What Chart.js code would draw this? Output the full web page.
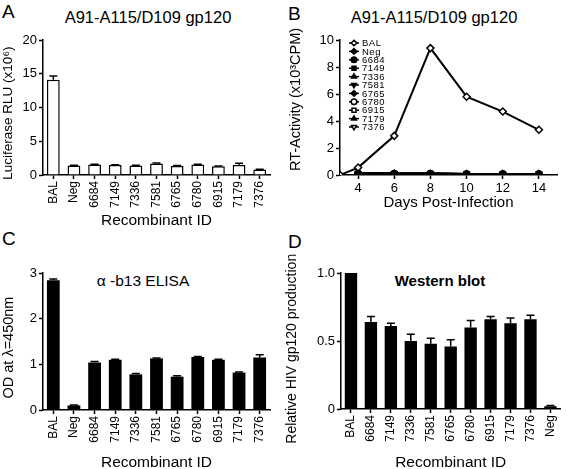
<!DOCTYPE html>
<html>
<head>
<meta charset="utf-8">
<script src="https://cdn.jsdelivr.net/npm/chart.js@4.4.0/dist/chart.umd.min.js"></script>
<style>
  body { margin: 0; background: #fff; width: 567px; height: 469px; position: relative; overflow: hidden;
         font-family: "Liberation Sans", Arial, sans-serif; color: #000; }
  .panel { position: absolute; }
  .letter { position: absolute; font-size: 19px; line-height: 1; }
  .ttl { position: absolute; font-size: 15px; line-height: 1; white-space: nowrap; transform: translateX(-50%); }
</style>
</head>
<body>
<div class="letter" style="left:2px;top:2px">A</div>
<div class="letter" style="left:288px;top:4px">B</div>
<div class="letter" style="left:2px;top:229px">C</div>
<div class="letter" style="left:288px;top:232px">D</div>
<div class="ttl" style="left:148px;top:9px;font-size:16.5px">A91-A115/D109 gp120</div>
<div class="ttl" style="left:434px;top:9px;font-size:16.5px">A91-A115/D109 gp120</div>
<div class="ttl" style="left:143px;top:273px;font-size:15.5px">α -b13 ELISA</div>
<div class="ttl" style="left:440px;top:273px;font-weight:bold;font-size:15px">Western blot</div>

<div class="panel" style="left:0;top:0"><canvas id="chartA" width="283" height="232"></canvas></div>
<div class="panel" style="left:283px;top:0"><canvas id="chartB" width="284" height="232"></canvas></div>
<div class="panel" style="left:0;top:235px"><canvas id="chartC" width="283" height="234"></canvas></div>
<div class="panel" style="left:283px;top:235px"><canvas id="chartD" width="284" height="234"></canvas></div>

<script>
// ---- data ----
const recombinants = ['BAL', 'Neg', '6684', '7149', '7336', '7581', '6765', '6780', '6915', '7179', '7376'];
const luciferase = [14.1, 1.4, 1.55, 1.48, 1.4, 1.72, 1.35, 1.55, 1.3, 1.48, 0.8];
const luciferaseErr = [0.55, 0.05, 0.05, 0.05, 0.05, 0.05, 0.05, 0.05, 0.05, 0.25, 0.05];

const days = [3, 4, 6, 8, 10, 12, 14];
const dayTicks = [4, 6, 8, 10, 12, 14];
const rtBAL  = [0, 0.55, 2.9, 9.4, 5.8, 4.7, 3.35];
const rtNeg  = [null, 0.15, 0.1, 0.1, 0.08, 0.08, 0.08];
const rt6684 = [null, 0.12, 0.1, 0.1, 0.08, 0.08, 0.08];
const rt7149 = [null, 0.1, 0.1, 0.1, 0.08, 0.08, 0.08];
const rt7336 = [null, 0.12, 0.12, 0.1, 0.08, 0.08, 0.08];
const rt7581 = [null, 0.1, 0.1, 0.1, 0.08, 0.08, 0.08];
const rt6765 = [null, 0.15, 0.12, 0.1, 0.08, 0.08, 0.08];
const rt6780 = [null, 0.1, 0.1, 0.1, 0.08, 0.08, 0.08];
const rt6915 = [null, 0.12, 0.1, 0.1, 0.08, 0.08, 0.08];
const rt7179 = [null, 0.1, 0.1, 0.1, 0.08, 0.08, 0.08];
const rt7376 = [null, 0.1, 0.1, 0.1, 0.08, 0.08, 0.08];

const odValues = [2.84, 0.1, 1.04, 1.1, 0.78, 1.13, 0.73, 1.16, 1.1, 0.82, 1.15];
const odErr = [0.03, 0.01, 0.02, 0.01, 0.02, 0.01, 0.02, 0.01, 0.01, 0.01, 0.06];

const westernIds = ['BAL', '6684', '7149', '7336', '7581', '6765', '6780', '6915', '7179', '7376', 'Neg'];
const gp120 = [1.0, 0.64, 0.61, 0.5, 0.48, 0.46, 0.6, 0.66, 0.63, 0.66, 0.02];
const gp120Err = [0, 0.04, 0.02, 0.05, 0.04, 0.05, 0.05, 0.02, 0.04, 0.03, 0.005];

// ---- setup ----
Chart.defaults.font.family = '"Liberation Sans", Arial, sans-serif';
Chart.defaults.color = '#000';
Chart.defaults.animation = false;

const axisGrid = { display: true, drawOnChartArea: false, drawTicks: true, tickLength: 4, tickWidth: 1.5, color: '#000', offset: false };
const axisBorder = { color: '#000', width: 1.5 };
const NB = '\u00a0';

// error bars drawn upward from each bar top
const errorBars = {
  id: 'errorBars',
  afterDatasetsDraw(chart, args, opts) {
    if (!opts.errors) return;
    const ctx = chart.ctx;
    const yScale = chart.scales.y;
    const values = chart.data.datasets[0].data;
    ctx.save();
    ctx.strokeStyle = '#000';
    ctx.lineWidth = 1.5;
    chart.getDatasetMeta(0).data.forEach(function (bar, i) {
      const err = opts.errors[i];
      if (!err) return;
      const top = yScale.getPixelForValue(values[i] + err);
      ctx.beginPath();
      ctx.moveTo(bar.x, bar.y);
      ctx.lineTo(bar.x, top);
      ctx.moveTo(bar.x - opts.cap, top);
      ctx.lineTo(bar.x + opts.cap, top);
      ctx.stroke();
    });
    ctx.restore();
  }
};

function barChart(id, labels, values, errs, cfg) {
  return new Chart(document.getElementById(id), {
    type: 'bar',
    data: {
      labels: labels,
      datasets: [{
        data: values,
        backgroundColor: cfg.fill,
        borderColor: '#000',
        borderWidth: cfg.border,
        barPercentage: 0.62,
        categoryPercentage: 1
      }]
    },
    options: {
      responsive: false,
      devicePixelRatio: 1,
      layout: { padding: cfg.padding },
      plugins: {
        legend: { display: false },
        tooltip: { enabled: false },
        errorBars: { errors: errs, cap: 4 }
      },
      scales: {
        x: {
          grid: axisGrid,
          border: axisBorder,
          ticks: { minRotation: 90, maxRotation: 90, autoSkip: false, padding: 2, font: { size: 12 } },
          title: { display: true, text: 'Recombinant ID', font: { size: 15.5, lineHeight: 1 }, padding: { top: 0, bottom: cfg.xTitlePad } },
          afterFit: function (s) { s.height = cfg.xHeight; }
        },
        y: {
          min: 0,
          max: cfg.max,
          grid: axisGrid,
          border: axisBorder,
          ticks: { stepSize: cfg.step, padding: 2, font: { size: 13 }, callback: cfg.tickFmt },
          title: { display: true, text: cfg.yTitle, font: { size: cfg.yTitleSize }, padding: { top: cfg.yTitlePad, bottom: 0 } },
          afterFit: function (s) { s.width = cfg.yWidth; }
        }
      }
    },
    plugins: [errorBars]
  });
}

// panel A
barChart('chartA', recombinants, luciferase, luciferaseErr, {
  fill: '#fff', border: 1.5, padding: { left: 0, top: 40, right: 13, bottom: 0 },
  xHeight: 57, xTitlePad: 4, max: 20, step: 5, yWidth: 43,
  yTitle: 'Luciferase RLU (x10⁶)' + NB.repeat(3), yTitleSize: 13.5, yTitlePad: 0
});

// panel C
barChart('chartC', recombinants, odValues, odErr, {
  fill: '#000', border: 0, padding: { left: 0, top: 38, right: 13, bottom: 0 },
  xHeight: 59, xTitlePad: -1, max: 3, step: 1, yWidth: 43,
  yTitle: 'OD at λ=450nm' + NB.repeat(3), yTitleSize: 14.5, yTitlePad: 0
});

// panel D
barChart('chartD', westernIds, gp120, gp120Err, {
  fill: '#000', border: 0, padding: { left: 0, top: 38, right: 4, bottom: 0 },
  xHeight: 60, xTitlePad: -1, max: 1, step: 0.5, yWidth: 58,
  yTitle: 'Relative HIV gp120 production' + NB.repeat(4), yTitleSize: 14, yTitlePad: 1,
  tickFmt: function (v) { return v === 0 ? '0' : v.toFixed(1); }
});

// panel B
const rtSeries = [
  { label: 'BAL',  values: rtBAL,  style: 'rectRot',  fill: '#fff', radius: 3.5 },
  { label: 'Neg',  values: rtNeg,  style: 'rectRot',  fill: '#000' },
  { label: '6684', values: rt6684, style: 'circle',   fill: '#000' },
  { label: '7149', values: rt7149, style: 'rect',     fill: '#000' },
  { label: '7336', values: rt7336, style: 'triangle', fill: '#000' },
  { label: '7581', values: rt7581, style: 'triangle', fill: '#000', rotation: 180 },
  { label: '6765', values: rt6765, style: 'rectRot',  fill: '#000' },
  { label: '6780', values: rt6780, style: 'circle',   fill: '#fff' },
  { label: '6915', values: rt6915, style: 'rect',     fill: '#fff' },
  { label: '7179', values: rt7179, style: 'triangle', fill: '#000' },
  { label: '7376', values: rt7376, style: 'triangle', fill: '#fff', rotation: 180 }
];

// legend drawn inside the plot area, Prism style (line through marker)
const innerLegend = {
  id: 'innerLegend',
  afterDraw(chart) {
    const ctx = chart.ctx;
    const area = chart.chartArea;
    const x0 = area.left + 9;
    ctx.save();
    ctx.font = '9.5px "Liberation Sans", Arial, sans-serif';
    ctx.letterSpacing = '0.5px';
    ctx.textBaseline = 'middle';
    chart.data.datasets.forEach(function (ds, i) {
      const y = area.top + 3 + i * 8.4;
      ctx.strokeStyle = '#000';
      ctx.lineWidth = 1.5;
      ctx.beginPath();
      ctx.moveTo(x0, y);
      ctx.lineTo(x0 + 10, y);
      ctx.stroke();
      ctx.fillStyle = ds.pointBackgroundColor;
      Chart.helpers.drawPoint(ctx, { pointStyle: ds.pointStyle, radius: 2.8, rotation: ds.pointRotation, borderWidth: 1.2 }, x0 + 5, y);
      ctx.fillStyle = '#000';
      ctx.fillText(ds.label, x0 + 13, y + 0.5);
    });
    ctx.restore();
  }
};

new Chart(document.getElementById('chartB'), {
  type: 'line',
  data: {
    datasets: rtSeries.map(function (s) {
      return {
        label: s.label,
        data: days.map(function (d, i) { return { x: d, y: s.values[i] }; }),
        borderColor: '#000',
        borderWidth: 2,
        pointStyle: s.style,
        pointRotation: s.rotation || 0,
        pointRadius: s.radius || 3,
        pointBackgroundColor: s.fill,
        pointBorderColor: '#000',
        pointBorderWidth: 1.5,
        tension: 0,
        order: s.label === 'BAL' ? 0 : 1
      };
    })
  },
  options: {
    responsive: false,
    devicePixelRatio: 1,
    layout: { padding: { left: 0, top: 40, right: 10, bottom: 0 } },
    plugins: { legend: { display: false }, tooltip: { enabled: false } },
    scales: {
      x: {
        type: 'linear',
        min: 3,
        max: 15,
        grid: axisGrid,
        border: axisBorder,
        ticks: { padding: 2, font: { size: 13 } },
        afterBuildTicks: function (s) { s.ticks = dayTicks.map(function (v) { return { value: v }; }); },
        title: { display: true, text: 'Days Post-Infection', font: { size: 15, lineHeight: 1 }, padding: { top: 0, bottom: 22 } },
        afterFit: function (s) { s.height = 57; }
      },
      y: {
        min: 0,
        max: 10,
        grid: axisGrid,
        border: axisBorder,
        ticks: { stepSize: 2, padding: 2, font: { size: 13 } },
        title: { display: true, text: NB.repeat(4) + 'RT-Activity (x10³CPM)', font: { size: 14.5 }, padding: { top: 4, bottom: 0 } },
        afterFit: function (s) { s.width = 57; }
      }
    }
  },
  plugins: [innerLegend]
});
</script>
</body>
</html>
